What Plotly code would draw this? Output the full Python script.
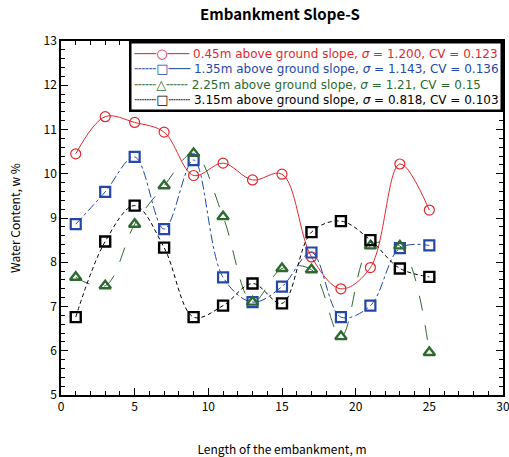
import plotly.graph_objects as go

# Distance along the embankment (m)
length_m = [1, 3, 5, 7, 9, 11, 13, 15, 17, 19, 21, 23, 25]

# Water content (%) at each height above the ground slope
wc_045 = [10.45, 11.29, 11.16, 10.94, 9.96, 10.24, 9.86, 9.99, 8.12, 7.40, 7.88, 10.22, 9.18]
wc_135 = [8.86, 9.59, 10.38, 8.75, 10.31, 7.66, 7.10, 7.45, 8.22, 6.76, 7.02, 8.32, 8.38]
wc_225 = [7.66, 7.47, 8.86, 9.73, 10.46, 9.03, 7.10, 7.86, 7.83, 6.32, 8.37, 8.37, 5.96]
wc_315 = [6.76, 8.47, 9.28, 8.33, 6.76, 7.02, 7.52, 7.07, 8.68, 8.93, 8.50, 7.86, 7.67]

series_names = [
    "0.45m above ground slope, <i>σ</i> = 1.200, CV = 0.123",
    "1.35m above ground slope, <i>σ</i> = 1.143, CV = 0.136",
    "2.25m above ground slope, <i>σ</i> = 1.21, CV = 0.15",
    "3.15m above ground slope, <i>σ</i> = 0.818, CV = 0.103",
]

FONT = "Noto Sans CJK JP, DejaVu Sans, sans-serif"
KEY_FONT = "DejaVu Sans, sans-serif"

def key_sample(left, glyph, right):
    return f"{left}<b><span style='font-size:13px'>{glyph}</span></b>{right}"

styles = [
    dict(color="#e0282e", dash="solid", symbol="circle-open", size=10, mlw=1.2,
         key=key_sample("───", "○", "───")),
    dict(color="#2448a8", dash="dashdot", symbol="square-open", size=10, mlw=2.2,
         key=key_sample("╌╌╌", "□", "───")),
    dict(color="#2d6a2f", dash="longdash", symbol="triangle-up-open", size=10, mlw=2.4,
         key=key_sample("╌╌╌", "△", "╌╌╌")),
    dict(color="#000000", dash="4px,3px", symbol="square-open", size=10, mlw=2.4,
         key=key_sample("┄┄┄", "□", "┄┄┄")),
]

fig = go.Figure()
for name, ys, st in zip(series_names, [wc_045, wc_135, wc_225, wc_315], styles):
    fig.add_trace(go.Scatter(
        x=length_m, y=ys, mode="lines+markers", name=name, showlegend=False,
        line=dict(color=st["color"], width=1, dash=st["dash"], shape="spline", smoothing=1.0),
        marker=dict(symbol=st["symbol"], size=st["size"], color=st["color"],
                    line=dict(color=st["color"], width=st["mlw"])),
    ))

# Compact key box: one coloured row per series
key_rows = [
    f"<span style='color:{st['color']}'>{st['key']} {name}</span>"
    for name, st in zip(series_names, styles)
]
fig.add_annotation(
    xref="paper", yref="paper", x=1, y=1, xanchor="right", yanchor="top",
    text="<br>".join(key_rows), align="left", showarrow=False,
    font=dict(family=KEY_FONT, size=12),
    bgcolor="white", bordercolor="black", borderwidth=2.5, borderpad=2,
)

axis_common = dict(
    showgrid=False, zeroline=False, showline=True, linecolor="black", linewidth=1.5,
    mirror="allticks", ticks="inside", ticklen=7, tickwidth=1, tickcolor="black",
    tickfont=dict(family=FONT, size=12, color="black"), ticklabeloverflow="allow",
)

fig.update_xaxes(
    range=[0, 30], dtick=5, tick0=0, automargin=False,
    minor=dict(dtick=1, ticks="inside", ticklen=4, tickcolor="black"),
    title=dict(text="Length of the embankment, m", font=dict(family=FONT, size=12, color="black"), standoff=33),
    **axis_common,
)
fig.update_yaxes(
    range=[5, 13], dtick=1, tick0=5, automargin=False,
    minor=dict(dtick=0.2, ticks="inside", ticklen=4, tickcolor="black"),
    title=dict(text="Water Content, w %", font=dict(family=FONT, size=12, color="black"), standoff=20),
    **axis_common,
)

fig.update_layout(
    width=509, height=457,
    margin=dict(l=61, r=6, t=41, b=62),
    paper_bgcolor="white", plot_bgcolor="white",
    title=dict(text="<b>Embankment Slope-S</b>", x=0.55, xanchor="center", y=0.967, yanchor="middle",
               font=dict(family=FONT, size=15, color="black")),
)

fig.write_html("out.html")
